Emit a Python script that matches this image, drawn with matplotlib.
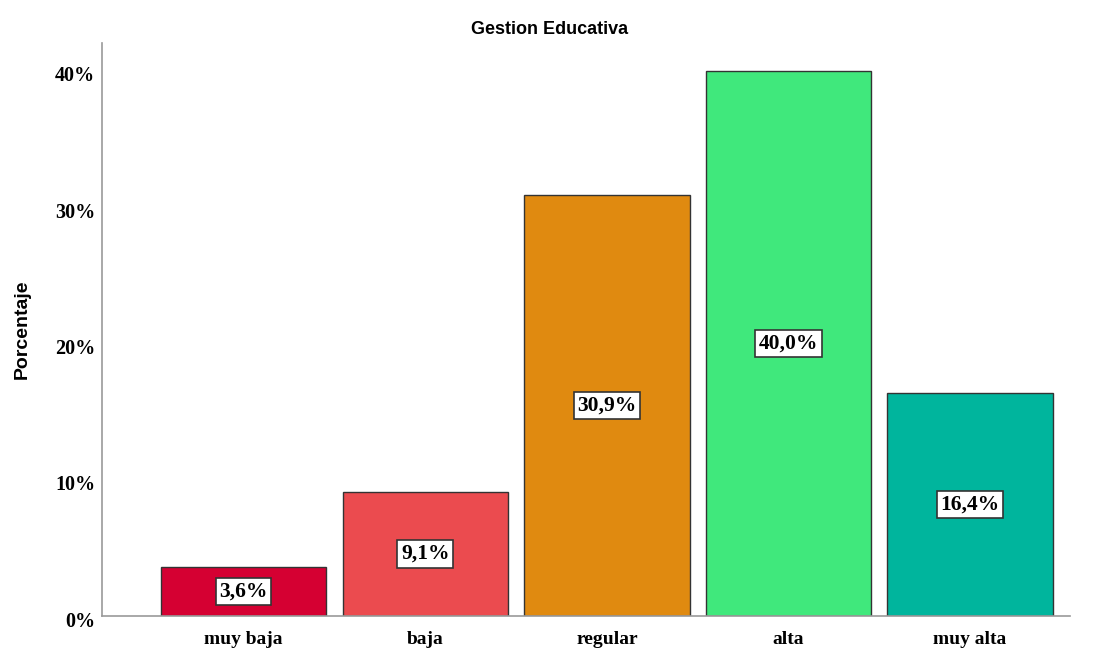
import matplotlib
matplotlib.use("Agg")
import matplotlib.pyplot as plt
from matplotlib.transforms import ScaledTranslation

categories = ["muy baja", "baja", "regular", "alta", "muy alta"]
percentages = [3.6, 9.1, 30.9, 40.0, 16.4]
colors = ["#D50032", "#EB4B4F", "#E08A10", "#40E87C", "#00B59D"]
yticks = [0, 10, 20, 30, 40]
ytick_labels = ["0%", "10%", "20%", "30%", "40%"]

fig = plt.figure(figsize=(10.99, 6.49), dpi=100)
ax = fig.add_axes([0.0928, 0.0508, 0.8808, 0.8829])

x = list(range(len(categories)))
ax.bar(x, percentages, width=0.91, color=colors, edgecolor="#333333", linewidth=1.0, zorder=2)

# value labels in white boxes at mid-height of each bar
for xi, v in zip(x, percentages):
    ax.text(xi, v / 2, f"{v:.1f}%".replace(".", ","), ha="center", va="center",
            fontsize=15.5, fontweight="bold", family="Liberation Serif",
            bbox=dict(boxstyle="square,pad=0.17", facecolor="white", edgecolor="#333333", linewidth=1.2),
            zorder=3)

ax.set_xlim(-0.78, 4.55)
ax.set_ylim(0, 42.05)
ax.set_xticks(x)
ax.set_xticklabels(categories, fontsize=14, fontweight="bold", family="Liberation Serif")
ax.set_yticks(yticks)
ax.set_yticklabels(ytick_labels, fontsize=14.5, fontweight="bold", family="Liberation Serif")
ax.tick_params(axis="x", length=0, pad=11)
ax.tick_params(axis="y", length=0, pad=5)

shift = ScaledTranslation(0, -3 / 100, fig.dpi_scale_trans)
for lbl in ax.get_yticklabels():
    lbl.set_transform(lbl.get_transform() + shift)

for side in ["top", "right"]:
    ax.spines[side].set_visible(False)
for side in ["left", "bottom"]:
    ax.spines[side].set_color("#999999")
    ax.spines[side].set_linewidth(1.2)

ax.set_ylabel("Porcentaje", fontsize=14, fontweight="bold", family="Liberation Sans", labelpad=17)
fig.text(0.5, 0.955, "Gestion Educativa", ha="center", va="center",
         fontsize=13, fontweight="bold", family="Liberation Sans")

fig.savefig("out.png", dpi=100, facecolor="white")
